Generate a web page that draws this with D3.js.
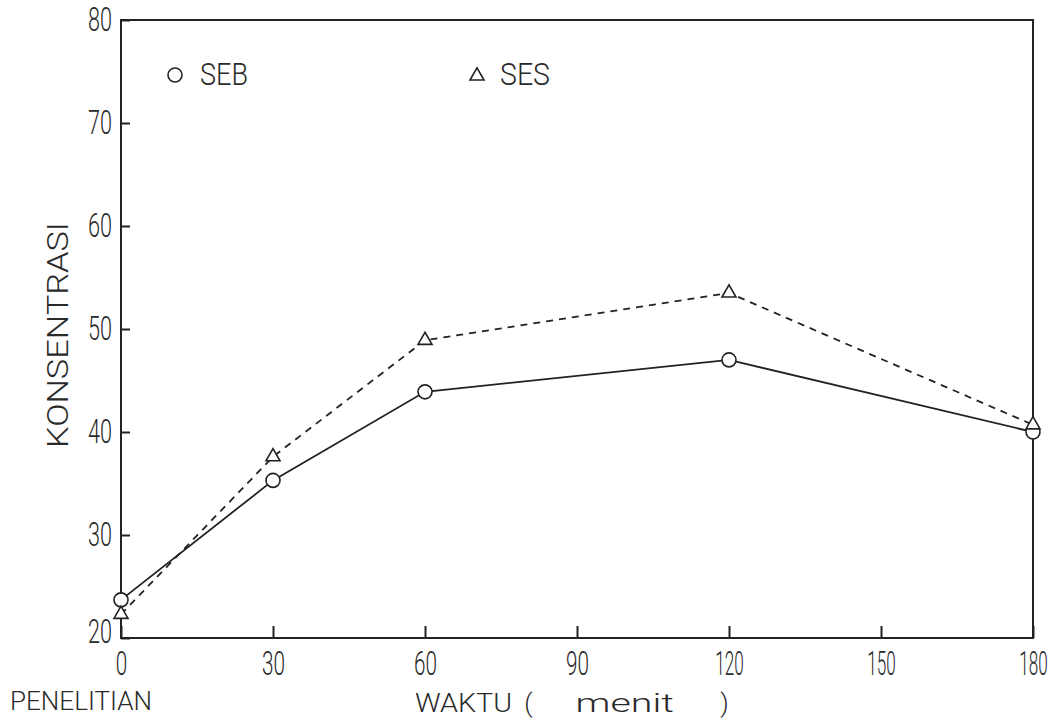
<!DOCTYPE html>
<html>
<head>
<meta charset="utf-8">
<script src="https://cdn.jsdelivr.net/npm/d3@7"></script>
<style>
  body { margin: 0; background: #fff; }
  svg text { font-family: Roboto, "DejaVu Sans", sans-serif; font-weight: 300; fill: #2a2a2a; }
  .axis path, .axis line { stroke: #222; stroke-width: 2; }
</style>
</head>
<body>
<svg id="chart" width="1054" height="720"></svg>
<script>
const svgWidth = 1054;
const svgHeight = 720;
const margin = { top: 20, right: 21, bottom: 82, left: 121 };
const chartWidth = svgWidth - margin.left - margin.right;
const chartHeight = svgHeight - margin.top - margin.bottom;

// waktu (menit)
const times = [0, 30, 60, 120, 180];
// konsentrasi
const seb = [23.7, 35.3, 43.9, 47.0, 40.0];
const ses = [22.3, 37.6, 48.9, 53.5, 40.7];

const xTicks = [0, 30, 60, 90, 120, 150, 180];
const yTicks = [20, 30, 40, 50, 60, 70, 80];

const xScale = d3.scaleLinear().domain([0, 180]).range([0, chartWidth]);
const yScale = d3.scaleLinear().domain([20, 80]).range([chartHeight, 0]);

const svg = d3.select("#chart");
const chart = svg.append("g")
    .attr("transform", `translate(${margin.left},${margin.top})`);

// frame
chart.append("rect")
    .attr("width", chartWidth)
    .attr("height", chartHeight)
    .attr("fill", "none")
    .attr("stroke", "#222")
    .attr("stroke-width", 2);

// digits in the plot are narrow, "1" even more so
const labelWidth = d => String(d).length * (d >= 100 ? 9.5 : 11.5);

const xAxis = d3.axisBottom(xScale)
    .tickValues(xTicks)
    .tickSizeInner(-12)
    .tickSizeOuter(0)
    .tickPadding(13);
chart.append("g")
    .attr("class", "axis")
    .attr("transform", `translate(0,${chartHeight})`)
    .call(xAxis)
    .selectAll(".tick text")
    .style("font-size", "34px")
    .attr("textLength", labelWidth)
    .attr("lengthAdjust", "spacingAndGlyphs");

const yAxis = d3.axisLeft(yScale)
    .tickValues(yTicks)
    .tickSizeInner(-9)
    .tickSizeOuter(0)
    .tickPadding(9);
chart.append("g")
    .attr("class", "axis")
    .call(yAxis)
    .selectAll(".tick text")
    .style("font-size", "34px")
    .attr("dy", d => d === 20 ? "0.12em" : "0.32em")
    .attr("textLength", d => String(d).length * 12)
    .attr("lengthAdjust", "spacingAndGlyphs");

chart.selectAll(".axis .domain").remove();

// lines
const line = d3.line()
    .x((d, i) => xScale(times[i]))
    .y(d => yScale(d));

chart.append("path")
    .datum(seb)
    .attr("d", line)
    .attr("fill", "none")
    .attr("stroke", "#222")
    .attr("stroke-width", 1.8);

chart.append("path")
    .datum(ses)
    .attr("d", line)
    .attr("fill", "none")
    .attr("stroke", "#222")
    .attr("stroke-width", 1.8)
    .attr("stroke-dasharray", "7,6");

// markers
chart.selectAll(".seb-pt")
    .data(seb)
    .enter()
    .append("circle")
    .attr("class", "seb-pt")
    .attr("cx", (_, i) => xScale(times[i]))
    .attr("cy", d => yScale(d))
    .attr("r", 7)
    .attr("fill", "#fff")
    .attr("stroke", "#222")
    .attr("stroke-width", 1.6);

const tri = d3.symbol(d3.symbolTriangle).size(85);
chart.selectAll(".ses-pt")
    .data(ses)
    .enter()
    .append("path")
    .attr("class", "ses-pt")
    .attr("d", tri)
    .attr("transform", (d, i) => `translate(${xScale(times[i])},${yScale(d)})`)
    .attr("fill", "#fff")
    .attr("stroke", "#222")
    .attr("stroke-width", 1.6);

// legend
svg.append("circle")
    .attr("cx", 175).attr("cy", 75).attr("r", 7)
    .attr("fill", "#fff").attr("stroke", "#222").attr("stroke-width", 1.6);
svg.append("text")
    .attr("x", 200).attr("y", 85)
    .style("font-size", "32px")
    .attr("textLength", 48).attr("lengthAdjust", "spacingAndGlyphs")
    .text("SEB");

svg.append("path")
    .attr("d", tri)
    .attr("transform", "translate(477,76)")
    .attr("fill", "#fff").attr("stroke", "#222").attr("stroke-width", 1.6);
svg.append("text")
    .attr("x", 500).attr("y", 85)
    .style("font-size", "32px")
    .attr("textLength", 50).attr("lengthAdjust", "spacingAndGlyphs")
    .text("SES");

// axis titles
svg.append("text")
    .attr("transform", "translate(68,335) rotate(-90)")
    .style("text-anchor", "middle")
    .style("font-size", "30px")
    .attr("textLength", 226).attr("lengthAdjust", "spacingAndGlyphs")
    .text("KONSENTRASI");

// plotter spacing: words sit far apart
const xTitle = svg.append("text")
    .attr("y", 712)
    .style("font-size", "26px");
xTitle.append("tspan").attr("x", 415).attr("textLength", 97)
    .attr("lengthAdjust", "spacingAndGlyphs").text("WAKTU");
xTitle.append("tspan").attr("x", 518).text(" (");
xTitle.append("tspan").attr("x", 566).attr("textLength", 108)
    .attr("lengthAdjust", "spacingAndGlyphs").text(" menit");
xTitle.append("tspan").attr("x", 714).text(" )");

svg.append("text")
    .attr("x", 10).attr("y", 710)
    .style("font-size", "25px")
    .attr("textLength", 142).attr("lengthAdjust", "spacingAndGlyphs")
    .text("PENELITIAN");
</script>
</body>
</html>
